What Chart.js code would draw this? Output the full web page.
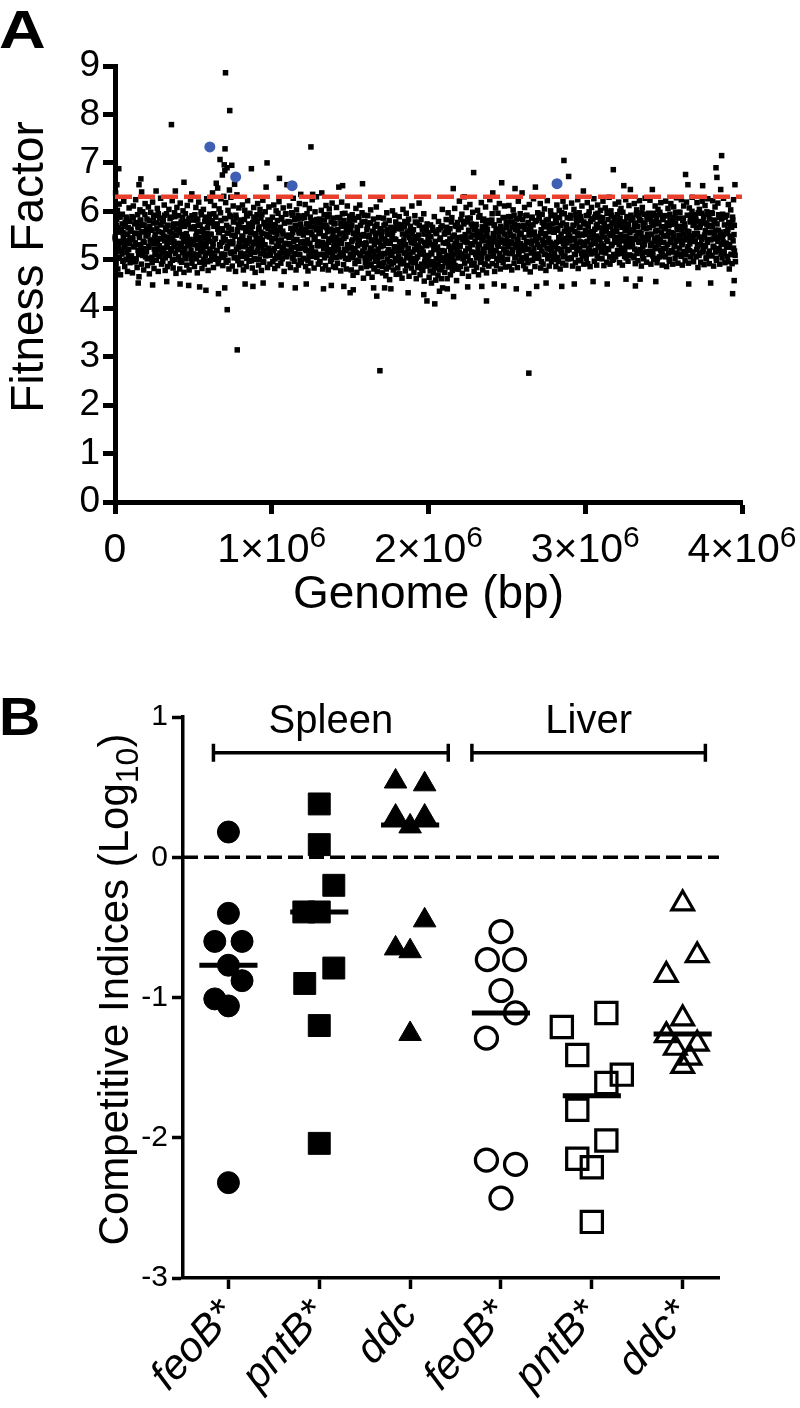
<!DOCTYPE html>
<html>
<head>
<meta charset="utf-8">
<script src="https://cdn.jsdelivr.net/npm/chart.js@4.4.1/dist/chart.umd.min.js"></script>
<style>
html,body{margin:0;padding:0;background:#fff;}
body{width:800px;height:1408px;position:relative;overflow:hidden;}
canvas{position:absolute;left:0;}
#chartA{top:0;}
#chartB{top:680px;}
</style>
</head>
<body>
<canvas id="chartA" width="800" height="660"></canvas>
<canvas id="chartB" width="800" height="728"></canvas>
<script>
// ---------------- Panel A data: [genome position (kb), fitness factor] ----------------
const genesSeg1 = [[2,5.43],[4,6.38],[7,4.92],[10,5.71],[13,5.18],[15,6.02],[18,4.81],[21,5.57],[24,5.29],[26,6.15],[29,5.04],[32,5.88],[35,4.69],[38,5.36],[41,5.63],[44,5.12],[47,5.94],[50,4.97],[53,5.48],[56,6.21],[59,5.25],[62,4.86],[65,5.77],[68,5.39],[71,5.01],[74,5.84],[77,5.53],[80,4.76],[84,5.66],[87,5.21],[90,6.07],[93,5.33],[96,4.94],[98,5.59],
[102,5.61],[105,5.08],[108,5.89],[111,4.73],[114,5.42],[117,6.11],[120,5.27],[123,4.96],[126,5.74],[129,5.35],[132,6.24],[135,5.02],[138,5.55],[141,4.84],[144,5.93],[147,5.19],[150,5.67],[153,4.65],[156,5.46],[159,6.03],[162,5.31],[165,5.81],[168,4.91],[171,5.58],[174,5.14],[177,5.99],[180,5.38],[183,4.79],[186,5.72],[189,5.23],[192,6.16],[195,5.06],[198,5.49],
[201,5.17],[204,5.84],[207,4.88],[210,5.52],[213,6.09],[216,5.26],[219,4.71],[222,5.69],[225,5.41],[228,5.98],[231,5.03],[234,5.61],[237,4.94],[240,6.19],[243,5.33],[246,5.76],[249,4.82],[252,5.45],[255,5.11],[258,5.92],[261,5.37],[264,4.99],[267,5.64],[270,6.06],[273,5.21],[276,4.76],[279,5.58],[282,5.29],[285,5.86],[288,5.07],[291,6.27],[294,5.43],[297,4.91],
[302,5.56],[305,4.97],[308,5.81],[311,5.24],[314,6.13],[317,5.39],[320,4.78],[323,5.66],[326,5.13],[329,5.95],[332,5.31],[335,4.86],[338,5.71],[341,5.47],[344,6.04],[347,5.09],[350,5.59],[353,4.92],[356,5.36],[359,5.88],[362,5.18],[365,6.22],[368,5.44],[371,4.83],[374,5.74],[377,5.28],[380,5.97],[383,5.01],[386,5.51],[389,4.72],[392,5.63],[395,6.08],[398,5.22],
[401,5.34],[404,5.91],[407,5.06],[410,5.62],[413,4.81],[416,6.17],[419,5.27],[422,5.78],[425,4.95],[428,5.48],[431,5.16],[434,6.01],[437,5.38],[440,4.74],[443,5.69],[446,5.23],[449,5.95],[452,5.02],[455,5.54],[458,4.89],[461,6.12],[464,5.31],[467,5.73],[470,5.11],[473,4.79],[476,5.86],[479,5.42],[482,6.24],[485,5.19],[488,5.64],[491,4.93],[494,5.36],[497,5.82]];
const genesSeg2 = [[501,5.12],[504,5.67],[507,4.86],[510,5.93],[513,5.41],[516,6.08],[519,5.02],[522,5.58],[525,4.73],[528,5.84],[531,5.29],[534,6.19],[537,5.46],[540,4.95],[543,5.72],[546,5.17],[549,5.99],[552,5.33],[555,4.82],[558,5.61],[561,5.24],[564,6.04],[567,5.51],[570,4.91],[573,5.79],[576,5.08],[579,5.88],[582,5.37],[585,6.26],[588,5.14],[591,5.66],[594,4.78],[597,5.44],
[601,5.38],[604,5.94],[607,4.98],[610,6.21],[613,5.52],[616,5.06],[619,5.81],[622,6.38],[625,5.27],[628,4.84],[631,5.69],[634,6.12],[637,5.43],[640,5.01],[643,5.88],[646,6.58],[649,5.19],[652,5.74],[655,6.48],[658,4.92],[661,5.56],[664,6.05],[667,5.31],[670,7.07],[673,5.97],[676,6.26],[679,5.12],[682,5.64],[685,6.75],[688,4.88],[691,5.47],[694,6.31],[697,6.96],[699,5.85],
[701,6.84],[703,5.42],[706,6.18],[709,4.95],[712,5.71],[715,6.9],[718,5.28],[721,6.02],[724,5.55],[727,4.81],[730,6.44],[733,5.92],[736,5.16],[739,6.29],[742,5.63],[745,6.95],[748,4.87],[751,5.38],[754,6.11],[757,5.79],[760,5.04],[763,6.56],[766,5.49],[769,4.76],[772,5.86],[775,5.22],[778,6.34],[781,5.58],[784,4.98],[787,5.74],[790,6.07],[793,5.33],[796,4.9],[799,5.67],
[801,5.14],[804,5.82],[807,4.93],[810,5.49],[813,6.13],[816,5.27],[819,4.79],[822,5.66],[825,5.39],[828,6.02],[831,5.07],[834,5.58],[837,4.86],[840,5.91],[843,5.33],[846,6.22],[849,5.18],[852,5.73],[855,4.97],[858,5.45],[861,5.96],[864,5.11],[867,5.62],[870,6.88],[873,5.24],[876,4.83],[879,5.77],[882,5.36],[885,6.08],[888,5.02],[891,5.54],[894,4.74],[897,5.87],
[901,5.43],[904,5.01],[907,5.79],[910,6.16],[913,5.26],[916,4.89],[919,5.68],[922,5.35],[925,6.04],[928,5.12],[931,5.57],[934,4.78],[937,5.93],[940,5.41],[943,6.23],[946,5.19],[949,4.95],[952,5.74],[955,5.31],[958,5.99],[961,5.08],[964,6.5],[967,5.52],[970,7.0],[973,4.84],[976,5.64],[979,5.22],[982,6.09],[985,5.47],[988,4.91],[991,5.81],[994,5.16],[997,5.58]];
const genesSeg3 = [[1001,5.37],[1004,5.88],[1007,4.96],[1010,5.61],[1013,6.13],[1016,5.23],[1019,4.82],[1022,5.72],[1025,5.44],[1028,6.01],[1031,5.09],[1034,5.53],[1037,4.88],[1040,5.96],[1043,5.29],[1046,6.2],[1049,6.68],[1052,5.14],[1055,5.67],[1058,4.93],[1061,5.41],[1064,5.84],[1067,5.02],[1070,5.59],[1073,6.07],[1076,5.26],[1079,4.76],[1082,5.76],[1085,5.33],[1088,5.94],[1091,5.06],[1094,5.49],[1097,6.55],
[1101,5.18],[1104,5.79],[1107,4.91],[1110,5.46],[1113,6.11],[1116,5.31],[1119,4.84],[1122,5.65],[1125,5.22],[1128,5.97],[1131,5.04],[1134,5.56],[1137,6.27],[1140,5.38],[1143,4.97],[1146,5.83],[1149,5.13],[1152,5.69],[1155,4.79],[1158,6.03],[1161,5.42],[1164,5.27],[1167,5.91],[1170,4.89],[1173,5.58],[1176,6.16],[1179,5.11],[1182,5.74],[1185,5.35],[1188,4.94],[1191,5.86],[1194,5.24],[1197,5.61],
[1201,5.51],[1204,5.02],[1207,5.87],[1210,5.28],[1213,6.14],[1216,4.86],[1219,5.63],[1222,5.19],[1225,5.95],[1228,5.41],[1231,4.77],[1234,5.74],[1237,5.08],[1240,6.06],[1243,5.34],[1246,5.57],[1249,4.93],[1252,5.81],[1255,5.25],[1258,6.24],[1261,6.35],[1264,5.13],[1267,5.68],[1270,4.83],[1273,5.44],[1276,5.99],[1279,5.16],[1282,5.62],[1285,6.3],[1288,5.05],[1291,5.77],[1294,5.37],[1297,4.91],
[1301,5.29],[1304,5.84],[1307,4.95],[1310,5.58],[1313,5.11],[1316,6.02],[1319,6.38],[1322,5.36],[1325,4.81],[1328,5.71],[1331,5.23],[1334,5.93],[1337,5.04],[1340,5.49],[1343,4.88],[1346,6.12],[1349,5.32],[1352,5.66],[1355,5.15],[1358,5.89],[1361,4.79],[1364,5.43],[1367,6.05],[1370,5.21],[1373,5.61],[1376,4.97],[1379,5.78],[1382,5.39],[1385,6.17],[1388,5.09],[1391,5.52],[1394,4.86],[1397,5.74],
[1401,5.18],[1404,5.75],[1407,4.84],[1410,5.46],[1413,6.08],[1416,5.27],[1419,4.93],[1422,5.62],[1425,5.34],[1428,6.5],[1431,5.06],[1434,5.87],[1437,5.41],[1440,4.77],[1443,5.69],[1446,6.19],[1449,5.13],[1452,6.53],[1455,5.55],[1458,4.9],[1461,5.81],[1464,5.22],[1467,5.96],[1470,5.03],[1473,5.48],[1476,4.81],[1479,5.72],[1482,6.11],[1485,5.31],[1488,5.01],[1491,5.64],[1494,5.24],[1497,5.9]];
const genesSeg4 = [[1501,5.12],[1504,5.66],[1507,4.79],[1510,5.38],[1513,5.93],[1516,5.04],[1519,4.68],[1522,5.54],[1525,5.21],[1528,5.82],[1531,4.92],[1534,5.45],[1537,6.06],[1540,5.15],[1543,4.74],[1546,5.61],[1549,5.29],[1552,5.88],[1555,4.97],[1558,5.41],[1561,6.13],[1564,5.08],[1567,5.71],[1570,4.83],[1573,5.33],[1576,5.97],[1579,6.57],[1582,5.18],[1585,4.62],[1588,5.52],[1591,5.26],[1594,5.79],[1597,4.95],
[1601,5.35],[1604,4.86],[1607,5.63],[1610,5.11],[1613,5.91],[1616,4.72],[1619,5.47],[1622,5.02],[1625,5.76],[1628,5.24],[1631,6.03],[1634,4.91],[1637,5.39],[1640,4.64],[1643,5.58],[1646,5.16],[1649,5.84],[1652,4.81],[1655,5.31],[1658,5.69],[1661,4.97],[1664,5.44],[1667,6.09],[1670,5.07],[1673,4.76],[1676,5.55],[1679,5.22],[1682,5.87],[1685,4.88],[1688,5.37],[1691,6.24],[1694,5.13],[1697,5.61],
[1701,5.06],[1704,5.58],[1707,4.73],[1710,5.29],[1713,5.86],[1716,4.94],[1719,5.43],[1722,5.13],[1725,5.74],[1728,4.67],[1731,5.34],[1734,5.97],[1737,5.01],[1740,5.52],[1743,4.85],[1746,5.21],[1749,5.81],[1752,4.59],[1755,5.38],[1758,5.09],[1761,5.66],[1764,4.91],[1767,5.47],[1770,6.01],[1773,5.17],[1776,4.79],[1779,5.61],[1782,5.27],[1785,5.92],[1788,4.98],[1791,5.42],[1794,4.7],[1797,5.71],
[1801,5.25],[1804,4.83],[1807,5.64],[1810,5.08],[1813,5.89],[1816,4.71],[1819,5.36],[1822,5.01],[1825,5.72],[1828,5.19],[1831,4.62],[1834,5.53],[1837,6.04],[1840,4.92],[1843,5.41],[1846,5.14],[1849,5.79],[1852,4.77],[1855,5.31],[1858,5.96],[1861,5.04],[1864,5.57],[1867,4.88],[1870,5.22],[1873,5.84],[1876,4.66],[1879,5.46],[1882,5.11],[1885,5.69],[1888,4.97],[1891,5.35],[1894,6.11],[1897,5.02],
[1901,5.16],[1904,5.62],[1907,4.74],[1910,5.33],[1913,5.91],[1916,4.95],[1919,5.44],[1922,4.61],[1925,5.27],[1928,5.76],[1931,5.06],[1934,4.84],[1937,5.51],[1940,6.17],[1943,5.18],[1946,4.69],[1949,5.39],[1952,5.83],[1955,4.91],[1958,5.24],[1961,5.67],[1964,4.78],[1967,5.12],[1970,5.95],[1973,4.56],[1976,5.36],[1979,5.03],[1982,5.58],[1985,4.87],[1988,5.29],[1991,5.74],[1994,4.98],[1997,5.45]];
const genesSeg5 = [[2001,5.08],[2004,4.64],[2007,5.47],[2010,4.89],[2013,5.72],[2016,5.14],[2019,4.52],[2022,5.31],[2025,4.96],[2028,5.61],[2031,4.73],[2034,5.22],[2037,5.89],[2040,4.83],[2043,5.38],[2046,4.58],[2049,5.02],[2052,5.54],[2055,4.91],[2058,5.26],[2061,4.68],[2064,5.79],[2067,5.11],[2070,4.79],[2073,5.42],[2076,4.99],[2079,5.66],[2082,4.61],[2085,5.19],[2088,6.04],[2091,4.86],[2094,5.35],[2097,5.04],
[2101,5.18],[2104,4.74],[2107,5.56],[2110,4.94],[2113,5.83],[2116,5.06],[2119,4.61],[2122,5.37],[2125,5.97],[2128,4.85],[2131,5.28],[2134,5.01],[2137,5.64],[2140,4.69],[2143,5.42],[2146,5.12],[2149,5.87],[2152,4.78],[2155,5.24],[2158,6.47],[2161,4.97],[2164,5.51],[2167,6.06],[2170,4.88],[2173,5.33],[2176,5.69],[2179,4.57],[2182,5.21],[2185,5.77],[2188,5.04],[2191,4.81],[2194,5.46],[2197,6.21],
[2201,5.29],[2204,4.86],[2207,5.67],[2210,5.12],[2213,5.94],[2216,4.72],[2219,5.41],[2222,5.03],[2225,5.79],[2228,6.3],[2231,4.93],[2234,5.52],[2237,5.18],[2240,6.08],[2243,4.81],[2246,5.36],[2249,5.86],[2252,5.07],[2255,4.66],[2258,5.58],[2261,5.23],[2264,6.14],[2267,4.98],[2270,5.47],[2273,5.74],[2276,4.89],[2279,5.31],[2282,5.98],[2285,5.15],[2288,6.8],[2291,4.76],[2294,5.62],[2297,5.38],
[2301,5.11],[2304,5.73],[2307,4.84],[2310,5.46],[2313,6.02],[2316,5.21],[2319,4.69],[2322,5.58],[2325,5.32],[2328,5.91],[2331,4.95],[2334,5.49],[2337,6.18],[2340,5.06],[2343,5.68],[2346,4.79],[2349,5.39],[2352,5.84],[2355,5.14],[2358,4.91],[2361,5.61],[2364,6.09],[2367,5.27],[2370,4.73],[2373,5.53],[2376,5.02],[2379,5.81],[2382,5.36],[2385,4.87],[2388,5.76],[2391,6.24],[2394,5.17],[2397,5.44],
[2401,5.26],[2404,5.82],[2407,4.92],[2410,6.38],[2413,5.54],[2416,5.08],[2419,5.71],[2422,4.76],[2425,5.37],[2428,6.07],[2431,5.19],[2434,4.88],[2437,5.63],[2440,5.31],[2443,5.96],[2446,4.99],[2449,5.47],[2452,6.16],[2455,5.13],[2458,4.81],[2461,5.69],[2464,5.41],[2467,6.59],[2470,5.04],[2473,5.58],[2476,4.94],[2479,5.87],[2482,5.22],[2485,6.11],[2488,5.34],[2491,4.85],[2494,5.66],[2497,5.16]];
const genesSeg6 = [[2501,5.44],[2504,5.01],[2507,5.78],[2510,5.27],[2513,6.12],[2516,4.86],[2519,5.56],[2522,5.13],[2525,5.89],[2528,5.37],[2531,4.79],[2534,5.67],[2537,5.21],[2540,6.03],[2543,5.48],[2546,4.93],[2549,5.73],[2552,6.47],[2555,5.31],[2558,5.06],[2561,5.84],[2564,5.42],[2567,4.84],[2570,5.61],[2573,6.21],[2576,5.16],[2579,5.52],[2582,4.97],[2585,5.95],[2588,5.33],[2591,5.69],[2594,5.04],[2597,6.38],
[2601,5.19],[2604,5.71],[2607,4.88],[2610,5.46],[2613,6.08],[2616,5.29],[2619,4.81],[2622,5.63],[2625,5.08],[2628,5.92],[2631,5.36],[2634,4.94],[2637,5.77],[2640,5.22],[2643,6.14],[2646,5.51],[2649,4.75],[2652,5.59],[2655,5.14],[2658,5.86],[2661,5.39],[2664,4.99],[2667,5.72],[2670,6.26],[2673,5.24],[2676,5.57],[2679,4.86],[2682,6.5],[2685,5.43],[2688,5.03],[2691,5.81],[2694,5.32],[2697,5.97],
[2701,5.48],[2704,5.06],[2707,5.87],[2710,5.26],[2713,6.16],[2716,4.83],[2719,5.62],[2722,5.18],[2725,5.94],[2728,5.41],[2731,4.91],[2734,5.76],[2737,5.31],[2740,6.05],[2743,5.12],[2746,5.54],[2749,4.78],[2752,5.69],[2755,5.36],[2758,6.22],[2761,5.02],[2764,5.83],[2767,5.44],[2770,4.87],[2773,5.66],[2776,5.21],[2779,6.01],[2782,5.33],[2785,4.96],[2788,5.74],[2791,5.27],[2794,5.91],[2797,5.09],
[2801,5.57],[2804,5.14],[2807,5.92],[2810,5.31],[2813,4.86],[2816,5.76],[2819,6.13],[2822,5.23],[2825,5.64],[2828,4.97],[2831,5.46],[2834,6.02],[2837,5.38],[2840,4.81],[2843,5.71],[2846,5.18],[2849,5.97],[2852,5.42],[2855,4.93],[2858,6.21],[2861,5.06],[2864,7.05],[2867,5.59],[2870,5.27],[2873,6.09],[2876,4.89],[2879,5.68],[2882,5.35],[2885,5.87],[2888,5.02],[2891,5.52],[2894,6.72],[2897,5.21],
[2901,5.39],[2904,5.86],[2907,5.03],[2910,5.62],[2913,6.17],[2916,5.28],[2919,4.87],[2922,5.71],[2925,5.44],[2928,6.04],[2931,5.11],[2934,5.58],[2937,4.94],[2940,5.93],[2943,5.33],[2946,5.76],[2949,5.19],[2952,6.24],[2955,4.82],[2958,5.49],[2961,5.97],[2964,5.24],[2967,5.67],[2970,4.98],[2973,5.81],[2976,5.36],[2979,6.11],[2982,5.08],[2985,5.53],[2988,6.42],[2991,4.91],[2994,5.74],[2997,5.29]];
const genesSeg7 = [[3001,5.52],[3004,5.09],[3007,5.91],[3010,5.37],[3013,6.18],[3016,4.92],[3019,5.68],[3022,5.24],[3025,5.99],[3028,5.46],[3031,4.86],[3034,5.79],[3037,5.31],[3040,6.08],[3043,5.58],[3046,5.14],[3049,5.84],[3052,5.41],[3055,6.26],[3058,4.97],[3061,5.63],[3064,5.19],[3067,5.94],[3070,5.49],[3073,4.89],[3076,5.73],[3079,6.13],[3082,5.27],[3085,5.66],[3088,5.03],[3091,5.88],[3094,5.44],[3097,6.02],
[3101,5.33],[3104,5.81],[3107,5.02],[3110,5.64],[3113,6.21],[3116,5.26],[3119,4.88],[3122,5.72],[3125,5.47],[3128,6.07],[3131,5.15],[3134,5.59],[3137,4.95],[3140,5.96],[3143,5.38],[3146,5.83],[3149,5.21],[3152,6.29],[3155,5.54],[3158,4.91],[3161,5.69],[3164,6.01],[3167,5.29],[3170,5.76],[3173,4.99],[3176,5.51],[3179,6.86],[3182,5.11],[3185,5.87],[3188,5.42],[3191,6.15],[3194,5.06],[3197,5.63],
[3201,5.46],[3204,5.93],[3207,5.12],[3210,5.71],[3213,6.19],[3216,5.31],[3219,4.94],[3222,5.86],[3225,5.52],[3228,6.06],[3231,5.23],[3234,5.67],[3237,4.89],[3240,5.98],[3243,5.39],[3246,6.53],[3249,5.78],[3252,5.17],[3255,5.61],[3258,6.24],[3261,5.04],[3264,5.49],[3267,5.89],[3270,5.27],[3273,4.97],[3276,5.74],[3279,6.12],[3282,5.35],[3285,5.56],[3288,6.45],[3291,5.09],[3294,5.82],[3297,5.43],
[3301,5.34],[3304,5.87],[3307,5.07],[3310,5.62],[3313,6.16],[3316,5.22],[3319,4.92],[3322,5.76],[3325,5.48],[3328,6.03],[3331,5.13],[3334,5.69],[3337,4.98],[3340,5.91],[3343,5.36],[3346,6.22],[3349,5.57],[3352,5.19],[3355,5.81],[3358,4.87],[3361,5.44],[3364,6.08],[3367,5.28],[3370,5.73],[3373,5.02],[3376,5.94],[3379,5.39],[3382,6.27],[3385,5.16],[3388,5.64],[3391,4.95],[3394,5.84],[3397,5.52],
[3401,5.41],[3404,5.96],[3407,5.11],[3410,5.66],[3413,6.23],[3416,5.29],[3419,4.91],[3422,5.79],[3425,5.53],[3428,6.45],[3431,5.17],[3434,5.72],[3437,5.01],[3440,5.92],[3443,5.37],[3446,6.11],[3449,5.59],[3452,5.23],[3455,5.86],[3458,4.94],[3461,5.47],[3464,6.04],[3467,5.31],[3470,5.77],[3473,5.06],[3476,5.98],[3479,5.42],[3482,6.18],[3485,5.13],[3488,5.68],[3491,4.89],[3494,5.83],[3497,5.49]];
const genesSeg8 = [[3501,5.36],[3504,5.91],[3507,5.08],[3510,5.64],[3513,6.21],[3516,5.24],[3519,4.86],[3522,5.76],[3525,5.49],[3528,6.06],[3531,5.14],[3534,5.71],[3537,4.97],[3540,5.94],[3543,5.41],[3546,6.16],[3549,5.56],[3552,5.19],[3555,5.83],[3558,4.91],[3561,5.46],[3564,6.09],[3567,5.27],[3570,5.74],[3573,5.03],[3576,5.97],[3579,5.38],[3582,6.28],[3585,5.11],[3588,5.67],[3591,4.93],[3594,5.86],[3597,5.51],
[3601,5.43],[3604,5.98],[3607,5.12],[3610,5.69],[3613,6.24],[3616,5.31],[3619,4.89],[3622,5.81],[3625,5.52],[3628,6.11],[3631,5.17],[3634,5.74],[3637,4.98],[3640,6.76],[3643,5.44],[3646,6.19],[3649,5.59],[3652,5.22],[3655,6.55],[3658,4.93],[3661,5.49],[3664,6.07],[3667,5.33],[3670,5.78],[3673,5.06],[3676,5.92],[3679,5.39],[3682,6.29],[3685,5.16],[3688,5.71],[3691,4.96],[3694,5.88],[3697,5.54],
[3701,5.38],[3704,5.93],[3707,5.06],[3710,5.66],[3713,6.18],[3716,5.27],[3719,4.84],[3722,5.79],[3725,5.47],[3728,6.04],[3731,5.14],[3734,5.72],[3737,4.95],[3740,5.96],[3743,5.42],[3746,6.21],[3749,6.53],[3752,5.21],[3755,5.86],[3758,4.9],[3761,5.51],[3764,6.12],[3767,5.29],[3770,5.76],[3773,5.02],[3776,5.99],[3779,5.36],[3782,6.26],[3785,5.12],[3788,5.69],[3791,4.92],[3794,5.84],[3797,5.56],
[3801,5.41],[3804,5.97],[3807,5.09],[3810,5.68],[3813,6.22],[3816,5.28],[3819,4.87],[3822,5.82],[3825,5.53],[3828,6.09],[3831,5.16],[3834,6.9],[3837,4.99],[3840,6.7],[3843,5.46],[3846,6.17],[3849,5.61],[3852,5.23],[3855,5.87],[3858,4.91],[3861,5.48],[3864,6.45],[3867,5.32],[3870,7.15],[3873,5.04],[3876,5.94],[3879,5.37],[3882,6.27],[3885,5.13],[3888,5.72],[3891,4.94],[3894,5.89],[3897,5.58],
[3901,5.34],[3904,5.92],[3907,5.07],[3910,5.62],[3913,6.14],[3916,5.26],[3919,4.81],[3922,5.74],[3925,5.46],[3928,6.03],[3931,5.11],[3934,5.67],[3937,4.92],[3940,5.88],[3943,5.39],[3946,6.24],[3949,5.52],[3952,5.18],[3955,6.55],[3958,4.96]];
// dense core of the band (second pass of genes between the ones above)
const genesCore1 = [[1,5.47],[6,5.12],[11,5.83],[16,5.29],[21,5.66],[26,5.03],[31,5.91],[36,5.38],[41,5.21],[46,5.74],[51,5.56],[56,4.98],[61,5.69],[66,5.33],[71,5.88],[76,5.15],[81,5.52],[86,5.07],[91,5.79],[96,5.42],
[101,5.63],[106,5.01],[111,5.45],[116,5.86],[121,5.27],[126,5.54],[131,4.96],[136,5.77],[141,5.31],[146,5.68],[151,5.11],[156,5.49],[161,5.82],[166,5.24],[171,5.71],[176,5.09],[181,5.58],[186,5.36],[191,5.93],[196,5.18],
[201,5.63],[206,5.02],[211,5.57],[216,5.28],[221,5.81],[226,5.36],[231,5.61],[236,5.05],[241,5.39],[246,5.87],[251,5.22],[256,5.53],[261,5.14],[266,5.76],[271,5.34],[276,5.95],[281,5.08],[286,5.44],[291,5.72],[296,5.19],
[301,5.78],[306,5.16],[311,5.49],[316,5.92],[321,5.04],[326,5.62],[331,5.26],[336,5.71],[341,5.41],[346,5.11],[351,5.85],[356,5.23],[361,5.55],[366,4.99],[371,5.67],[376,5.37],[381,5.89],[386,5.13],[391,5.51],[396,5.33],
[401,5.21],[406,5.74],[411,5.56],[416,4.98],[421,5.69],[426,5.33],[431,5.88],[436,5.15],[441,5.52],[446,5.07],[451,5.79],[456,5.42],[461,5.47],[466,5.12],[471,5.83],[476,5.29],[481,5.66],[486,5.03],[491,5.91],[496,5.38],
[501,5.31],[506,5.68],[511,5.11],[516,5.49],[521,5.82],[526,5.24],[531,5.71],[536,5.09],[541,5.58],[546,5.36],[551,5.93],[556,5.18],[561,5.63],[566,5.01],[571,5.45],[576,5.86],[581,5.27],[586,5.54],[591,4.96],[596,5.77],
[601,5.87],[606,5.22],[611,5.53],[616,5.14],[621,5.76],[626,5.34],[631,5.95],[636,5.08],[641,5.44],[646,5.72],[651,5.19],[656,5.63],[661,5.02],[666,5.57],[671,5.28],[676,5.81],[681,5.36],[686,5.61],[691,5.05],[696,5.39],
[701,5.11],[706,5.85],[711,5.23],[716,5.55],[721,4.99],[726,5.67],[731,5.37],[736,5.89],[741,5.13],[746,5.51],[751,5.33],[756,5.78],[761,5.16],[766,5.49],[771,5.92],[776,5.04],[781,5.62],[786,5.26],[791,5.71],[796,5.41],
[801,5.07],[806,5.79],[811,5.42],[816,5.47],[821,5.12],[826,5.83],[831,5.29],[836,5.66],[841,5.03],[846,5.91],[851,5.38],[856,5.21],[861,5.74],[866,5.56],[871,4.98],[876,5.69],[881,5.33],[886,5.88],[891,5.15],[896,5.52],
[901,5.36],[906,5.93],[911,5.18],[916,5.63],[921,5.01],[926,5.45],[931,5.86],[936,5.27],[941,5.54],[946,4.96],[951,5.77],[956,5.31],[961,5.68],[966,5.11],[971,5.49],[976,5.82],[981,5.24],[986,5.71],[991,5.09],[996,5.58]];
const genesCore2 = [[1001,5.44],[1006,5.72],[1011,5.19],[1016,5.63],[1021,5.02],[1026,5.57],[1031,5.28],[1036,5.81],[1041,5.36],[1046,5.61],[1051,5.05],[1056,5.39],[1061,5.87],[1066,5.22],[1071,5.53],[1076,5.14],[1081,5.76],[1086,5.34],[1091,5.95],[1096,5.08],
[1101,5.13],[1106,5.51],[1111,5.33],[1116,5.78],[1121,5.16],[1126,5.49],[1131,5.92],[1136,5.04],[1141,5.62],[1146,5.26],[1151,5.71],[1156,5.41],[1161,5.11],[1166,5.85],[1171,5.23],[1176,5.55],[1181,4.99],[1186,5.67],[1191,5.37],[1196,5.89],
[1201,5.03],[1206,5.91],[1211,5.38],[1216,5.21],[1221,5.74],[1226,5.56],[1231,4.98],[1236,5.69],[1241,5.33],[1246,5.88],[1251,5.15],[1256,5.52],[1261,5.07],[1266,5.79],[1271,5.42],[1276,5.47],[1281,5.12],[1286,5.83],[1291,5.29],[1296,5.66],
[1301,5.54],[1306,4.96],[1311,5.77],[1316,5.31],[1321,5.68],[1326,5.11],[1331,5.49],[1336,5.82],[1341,5.24],[1346,5.71],[1351,5.09],[1356,5.58],[1361,5.36],[1366,5.93],[1371,5.18],[1376,5.63],[1381,5.01],[1386,5.45],[1391,5.86],[1396,5.27],
[1401,5.36],[1406,5.61],[1411,5.05],[1416,5.39],[1421,5.87],[1426,5.22],[1431,5.53],[1436,5.14],[1441,5.76],[1446,5.34],[1451,5.95],[1456,5.08],[1461,5.44],[1466,5.72],[1471,5.19],[1476,5.63],[1481,5.02],[1486,5.57],[1491,5.28],[1496,5.81],
[1501,5.62],[1506,5.26],[1511,5.71],[1516,5.41],[1521,5.11],[1526,5.85],[1531,5.23],[1536,5.55],[1541,4.99],[1546,5.67],[1551,5.37],[1556,5.89],[1561,5.13],[1566,5.51],[1571,5.33],[1576,5.78],[1581,5.16],[1586,5.49],[1591,5.92],[1596,5.04],
[1601,5.32],[1606,4.97],[1611,5.68],[1616,5.14],[1621,5.51],[1626,4.88],[1631,5.76],[1636,5.23],[1641,5.06],[1646,5.59],[1651,5.41],[1656,4.83],[1661,5.54],[1666,5.18],[1671,5.73],[1676,5.0],[1681,5.37],[1686,4.92],[1691,5.64],[1696,5.27],
[1701,5.48],[1706,4.86],[1711,5.3],[1716,5.71],[1721,5.12],[1726,5.39],[1731,4.81],[1736,5.62],[1741,5.16],[1746,5.53],[1751,4.96],[1756,5.34],[1761,5.67],[1766,5.09],[1771,5.56],[1776,4.94],[1781,5.43],[1786,5.21],[1791,5.78],[1796,5.03],
[1801,5.18],[1806,5.73],[1811,5.0],[1816,5.37],[1821,4.92],[1826,5.64],[1831,5.27],[1836,5.32],[1841,4.97],[1846,5.68],[1851,5.14],[1856,5.51],[1861,4.88],[1866,5.76],[1871,5.23],[1876,5.06],[1881,5.59],[1886,5.41],[1891,4.83],[1896,5.54],
[1901,4.94],[1906,5.43],[1911,5.21],[1916,5.78],[1921,5.03],[1926,5.48],[1931,4.86],[1936,5.3],[1941,5.71],[1946,5.12],[1951,5.39],[1956,4.81],[1961,5.62],[1966,5.16],[1971,5.53],[1976,4.96],[1981,5.34],[1986,5.67],[1991,5.09],[1996,5.56]];
const genesCore3 = [[2001,5.53],[2006,5.35],[2011,4.77],[2016,5.48],[2021,5.12],[2026,5.67],[2031,4.94],[2036,5.31],[2041,4.86],[2046,5.58],[2051,5.21],[2056,5.26],[2061,4.91],[2066,5.62],[2071,5.08],[2076,5.45],[2081,4.82],[2086,5.7],[2091,5.17],[2096,5.0],
[2101,5.53],[2106,4.96],[2111,5.34],[2116,5.67],[2121,5.09],[2126,5.56],[2131,4.94],[2136,5.43],[2141,5.21],[2146,5.78],[2151,5.03],[2156,5.48],[2161,4.86],[2166,5.3],[2171,5.71],[2176,5.12],[2181,5.39],[2186,4.81],[2191,5.62],[2196,5.16],
[2201,5.28],[2206,5.83],[2211,5.1],[2216,5.47],[2221,5.02],[2226,5.74],[2231,5.37],[2236,5.42],[2241,5.07],[2246,5.78],[2251,5.24],[2256,5.61],[2261,4.98],[2266,5.86],[2271,5.33],[2276,5.16],[2281,5.69],[2286,5.51],[2291,4.93],[2296,5.64],
[2301,5.66],[2306,5.04],[2311,5.53],[2316,5.31],[2321,5.88],[2326,5.13],[2331,5.58],[2336,4.96],[2341,5.4],[2346,5.81],[2351,5.22],[2356,5.49],[2361,4.91],[2366,5.72],[2371,5.26],[2376,5.63],[2381,5.06],[2386,5.44],[2391,5.77],[2396,5.19],
[2401,5.34],[2406,5.95],[2411,5.08],[2416,5.44],[2421,5.72],[2426,5.19],[2431,5.63],[2436,5.02],[2441,5.57],[2446,5.28],[2451,5.81],[2456,5.36],[2461,5.61],[2466,5.05],[2471,5.39],[2476,5.87],[2481,5.22],[2486,5.53],[2491,5.14],[2496,5.76],
[2501,5.67],[2506,5.37],[2511,5.89],[2516,5.13],[2521,5.51],[2526,5.33],[2531,5.78],[2536,5.16],[2541,5.49],[2546,5.92],[2551,5.04],[2556,5.62],[2561,5.26],[2566,5.71],[2571,5.41],[2576,5.11],[2581,5.85],[2586,5.23],[2591,5.55],[2596,4.99],
[2601,5.83],[2606,5.29],[2611,5.66],[2616,5.03],[2621,5.91],[2626,5.38],[2631,5.21],[2636,5.74],[2641,5.56],[2646,4.98],[2651,5.69],[2656,5.33],[2661,5.88],[2666,5.15],[2671,5.52],[2676,5.07],[2681,5.79],[2686,5.42],[2691,5.47],[2696,5.12],
[2701,5.45],[2706,5.86],[2711,5.27],[2716,5.54],[2721,4.96],[2726,5.77],[2731,5.31],[2736,5.68],[2741,5.11],[2746,5.49],[2751,5.82],[2756,5.24],[2761,5.71],[2766,5.09],[2771,5.58],[2776,5.36],[2781,5.93],[2786,5.18],[2791,5.63],[2796,5.01],
[2801,5.57],[2806,5.28],[2811,5.81],[2816,5.36],[2821,5.61],[2826,5.05],[2831,5.39],[2836,5.87],[2841,5.22],[2846,5.53],[2851,5.14],[2856,5.76],[2861,5.34],[2866,5.95],[2871,5.08],[2876,5.44],[2881,5.72],[2886,5.19],[2891,5.63],[2896,5.02],
[2901,5.49],[2906,5.92],[2911,5.04],[2916,5.62],[2921,5.26],[2926,5.71],[2931,5.41],[2936,5.11],[2941,5.85],[2946,5.23],[2951,5.55],[2956,4.99],[2961,5.67],[2966,5.37],[2971,5.89],[2976,5.13],[2981,5.51],[2986,5.33],[2991,5.78],[2996,5.16]];
const genesCore4 = [[3001,5.61],[3006,5.03],[3011,5.74],[3016,5.38],[3021,5.93],[3026,5.2],[3031,5.57],[3036,5.12],[3041,5.84],[3046,5.47],[3051,5.52],[3056,5.17],[3061,5.88],[3066,5.34],[3071,5.71],[3076,5.08],[3081,5.96],[3086,5.43],[3091,5.26],[3096,5.79],
[3101,5.16],[3106,5.54],[3111,5.87],[3116,5.29],[3121,5.76],[3126,5.14],[3131,5.63],[3136,5.41],[3141,5.98],[3146,5.23],[3151,5.68],[3156,5.06],[3161,5.5],[3166,5.91],[3171,5.32],[3176,5.59],[3181,5.01],[3186,5.82],[3191,5.36],[3196,5.73],
[3201,5.58],[3206,5.19],[3211,5.81],[3216,5.39],[3221,6.0],[3226,5.13],[3231,5.49],[3236,5.77],[3241,5.24],[3246,5.68],[3251,5.07],[3256,5.62],[3261,5.33],[3266,5.86],[3271,5.41],[3276,5.66],[3281,5.1],[3286,5.44],[3291,5.92],[3296,5.27],
[3301,5.28],[3306,5.6],[3311,5.04],[3316,5.72],[3321,5.42],[3326,5.94],[3331,5.18],[3336,5.56],[3341,5.38],[3346,5.83],[3351,5.21],[3356,5.54],[3361,5.97],[3366,5.09],[3371,5.67],[3376,5.31],[3381,5.76],[3386,5.46],[3391,5.16],[3396,5.9],
[3401,5.47],[3406,5.52],[3411,5.17],[3416,5.88],[3421,5.34],[3426,5.71],[3431,5.08],[3436,5.96],[3441,5.43],[3446,5.26],[3451,5.79],[3456,5.61],[3461,5.03],[3466,5.74],[3471,5.38],[3476,5.93],[3481,5.2],[3486,5.57],[3491,5.12],[3496,5.84],
[3501,5.23],[3506,5.68],[3511,5.06],[3516,5.5],[3521,5.91],[3526,5.32],[3531,5.59],[3536,5.01],[3541,5.82],[3546,5.36],[3551,5.73],[3556,5.16],[3561,5.54],[3566,5.87],[3571,5.29],[3576,5.76],[3581,5.14],[3586,5.63],[3591,5.41],[3596,5.98],
[3601,5.24],[3606,5.68],[3611,5.07],[3616,5.62],[3621,5.33],[3626,5.86],[3631,5.41],[3636,5.66],[3641,5.1],[3646,5.44],[3651,5.92],[3656,5.27],[3661,5.58],[3666,5.19],[3671,5.81],[3676,5.39],[3681,6.0],[3686,5.13],[3691,5.49],[3696,5.77],
[3701,5.38],[3706,5.83],[3711,5.21],[3716,5.54],[3721,5.97],[3726,5.09],[3731,5.67],[3736,5.31],[3741,5.76],[3746,5.46],[3751,5.16],[3756,5.9],[3761,5.28],[3766,5.6],[3771,5.04],[3776,5.72],[3781,5.42],[3786,5.94],[3791,5.18],[3796,5.56],
[3801,5.71],[3806,5.08],[3811,5.96],[3816,5.43],[3821,5.26],[3826,5.79],[3831,5.61],[3836,5.03],[3841,5.74],[3846,5.38],[3851,5.93],[3856,5.2],[3861,5.57],[3866,5.12],[3871,5.84],[3876,5.47],[3881,5.52],[3886,5.17],[3891,5.88],[3896,5.34],
[3901,5.27],[3906,5.54],[3911,4.96],[3916,5.77],[3921,5.31],[3926,5.68],[3931,5.11],[3936,5.49],[3941,5.82],[3946,5.24],[3951,5.71],[3956,5.09]];
const outlierGenes = [[24,6.88],[12,6.55],[153,6.55],[165,6.67],[170,6.4],[148,4.52],[262,6.42],[240,4.48],[360,7.79],[385,6.42],[330,4.55],[440,6.6],[490,6.36],[415,4.5],[470,4.47],[540,4.44],[580,4.37],[660,4.3],[700,4.42],[716,3.97],[705,8.86],[732,8.08],[702,7.29],[780,3.14],[830,4.5],[880,4.45],[945,4.52],[1060,4.48],[1150,4.42],[1185,6.35],[1250,7.33],[1220,4.5],[1330,4.4],[1380,4.47],[1500,4.32],[1460,4.45],[1520,4.38],[1670,4.25],[1690,2.71],[1650,4.42],[1720,4.42],[1760,4.4],[1870,4.32],[1970,4.28],[1990,4.15],[2040,4.09],[2070,4.35],[2090,4.42],[2160,4.24],[2120,4.4],[2250,4.44],[2370,4.15],[2340,4.45],[2420,4.5],[2480,4.46],[2560,4.4],[2640,2.66],[2640,4.3],[2690,4.45],[2750,4.52],[2850,4.45],[2930,4.5],[3050,4.55],[3140,4.5],[3260,4.6],[3320,4.46],[3350,4.6],[3450,4.55],[3660,4.5],[3800,4.52],[3940,4.3],[3950,4.57]];
const hitGenesKb = [605, 770, 1130, 2820];
const hitFitness = [7.33, 6.71, 6.53, 6.57];
const fitnessThreshold = 6.3;
const yTickLabelsA = ['0','1','2','3','4','5','6','7','8','9'];
const xTickValuesA = [0, 1e6, 2e6, 3e6, 4e6];
const xTickBaseA = ['0','1×10','2×10','3×10','4×10'];
const xTickExpA = ['','6','6','6','6'];

// ---------------- Panel B data: competitive indices (log10) ----------------
const categoryLabels = ['feoB*','pntB*','ddc','feoB*','pntB*','ddc*'];
const categoryPositions = [0,1,2,3,4,5];
const spleenFeoB = [0.18,-0.40,-0.60,-0.60,-0.77,-0.88,-1.01,-1.06,-2.32];
const spleenFeoBJitter = [0,0,-0.15,0.15,0,0.15,-0.15,0,0];
const spleenPntB = [0.38,0.09,-0.20,-0.39,-0.39,-0.79,-0.90,-1.20,-2.04];
const spleenPntBJitter = [0,0,0.16,-0.17,0,0.16,-0.16,0,0];
const spleenDdc = [0.54,0.52,0.29,0.29,0.22,-0.45,-0.65,-0.67,-1.26];
const spleenDdcJitter = [-0.16,0.16,-0.16,0.16,0,0.16,-0.16,0,0];
const liverFeoB = [-0.53,-0.73,-0.73,-0.95,-1.11,-1.29,-2.16,-2.19,-2.43];
const liverFeoBJitter = [0,-0.15,0.15,0,0.16,-0.16,-0.16,0.16,0];
const liverPntB = [-1.11,-1.21,-1.41,-1.55,-1.61,-1.80,-2.02,-2.15,-2.21,-2.60];
const liverPntBJitter = [0.16,-0.33,-0.16,0.33,0.16,-0.16,0.16,-0.16,0,0];
const liverDdc = [-0.33,-0.70,-0.84,-1.15,-1.27,-1.33,-1.36,-1.43,-1.49];
const liverDdcJitter = [0,0.16,-0.18,0,-0.18,0.16,-0.08,0.08,0];
const groupMedians = [-0.77,-0.39,0.23,-1.11,-1.70,-1.26];
const organLabels = ['Spleen','Liver'];
const organSpans = [[-0.165,2.42],[2.68,5.25]];
const organBracketY = 0.745;
const yTickLabelsB = ['-3','-2','-1','0','1'];

// ---------------- common ----------------
const FONT = '"Liberation Sans", Arial, Helvetica, sans-serif';
Chart.defaults.font.family = FONT;
Chart.defaults.color = '#000';

const toXY = arr => arr.map(p => ({x: p[0] * 1000, y: p[1]}));
const allGenes = [].concat(genesSeg1, genesSeg2, genesSeg3, genesSeg4, genesSeg5, genesSeg6, genesSeg7, genesSeg8,
  genesCore1, genesCore2, genesCore3, genesCore4, outlierGenes);

function drawPanelLetter(ctx, letter, x, y, size, stretch) {
  ctx.save();
  ctx.translate(x, y);
  ctx.scale(stretch, 1);
  ctx.textAlign = 'left';
  ctx.textBaseline = 'alphabetic';
  ctx.font = 'bold ' + size + 'px ' + FONT;
  ctx.fillText(letter, 0, 0);
  ctx.restore();
}

const panelAText = {
  id: 'panelAText',
  afterDraw(chart) {
    const ctx = chart.ctx, xs = chart.scales.x, area = chart.chartArea;
    ctx.save();
    ctx.fillStyle = '#000';
    drawPanelLetter(ctx, 'A', -1, 48, 53, 1.22);
    ctx.textBaseline = 'alphabetic';
    ctx.textAlign = 'left';
    xTickValuesA.forEach((v, i) => {
      const px = xs.getPixelForValue(v);
      ctx.font = '41px ' + FONT;
      const wb = ctx.measureText(xTickBaseA[i]).width;
      ctx.font = '30px ' + FONT;
      const we = xTickExpA[i] ? ctx.measureText(xTickExpA[i]).width : 0;
      const start = px - (wb + we) / 2;
      ctx.font = '41px ' + FONT;
      ctx.fillText(xTickBaseA[i], start, 562);
      if (we) { ctx.font = '30px ' + FONT; ctx.fillText(xTickExpA[i], start + wb, 547); }
    });
    ctx.textAlign = 'center';
    ctx.font = '46px ' + FONT;
    ctx.fillText('Genome (bp)', (area.left + area.right) / 2, 608);
    ctx.translate(43, 267);
    ctx.rotate(-Math.PI / 2);
    ctx.fillText('Fitness Factor', 0, 0);
    ctx.restore();
  }
};

new Chart(document.getElementById('chartA'), {
  type: 'scatter',
  data: {
    datasets: [
      {
        label: 'hits',
        data: hitGenesKb.map((kb, i) => ({x: kb * 1000, y: hitFitness[i]})),
        pointStyle: 'circle', pointRadius: 5.5, pointBackgroundColor: '#3f5fb5', pointBorderWidth: 0, clip: false
      },
      {
        type: 'line', label: 'threshold',
        data: [{x: 0, y: fitnessThreshold}, {x: 4e6, y: fitnessThreshold}],
        borderColor: '#e8402d', borderWidth: 4.5, borderDash: [17, 6], pointRadius: 0, clip: false
      },
      {
        label: 'genes',
        data: toXY(allGenes),
        pointStyle: 'rect', pointRadius: 3.9, pointBackgroundColor: '#000', pointBorderWidth: 0, clip: false
      }
    ]
  },
  options: {
    responsive: false, animation: false, devicePixelRatio: 1,
    layout: {padding: {left: 0, top: 66, right: 58, bottom: 0}},
    plugins: {legend: {display: false}, tooltip: {enabled: false}},
    scales: {
      x: {
        type: 'linear', min: 0, max: 4e6,
        ticks: {display: false, stepSize: 1e6},
        grid: {drawOnChartArea: false, tickLength: 12, tickWidth: 5, tickColor: '#000'},
        border: {display: true, color: '#000', width: 5},
        afterFit: s => { s.height = 158; }
      },
      y: {
        min: 0, max: 9,
        ticks: {stepSize: 1, autoSkip: false, font: {size: 37, lineHeight: 1}, padding: 3, color: '#000',
          callback: (v, i) => yTickLabelsA[i]},
        grid: {drawOnChartArea: false, tickLength: 12, tickWidth: 5, tickColor: '#000'},
        border: {display: true, color: '#000', width: 5},
        afterFit: s => { s.width = 115; }
      }
    }
  },
  plugins: [panelAText]
});

// ---------------- Panel B ----------------
const panelBText = {
  id: 'panelBText',
  afterDraw(chart) {
    const ctx = chart.ctx, xs = chart.scales.x, ys = chart.scales.y;
    ctx.save();
    ctx.fillStyle = '#000';
    drawPanelLetter(ctx, 'B', -1, 55, 53, 1.08);
    ctx.textBaseline = 'alphabetic';
    ctx.textAlign = 'center';
    ctx.font = '40px ' + FONT;
    const by = ys.getPixelForValue(organBracketY);
    organLabels.forEach((t, i) => {
      const cx = xs.getPixelForValue((organSpans[i][0] + organSpans[i][1]) / 2);
      ctx.fillText(t, cx, by - 20);
    });
    // y title with subscript
    ctx.translate(128, (chart.chartArea.top + chart.chartArea.bottom) / 2 - 8);
    ctx.rotate(-Math.PI / 2);
    ctx.textAlign = 'left';
    const p1 = 'Competitive Indices (Log', sub = '10', p3 = ')';
    ctx.font = '42px ' + FONT;
    const w1 = ctx.measureText(p1).width, w3 = ctx.measureText(p3).width;
    ctx.font = '32px ' + FONT;
    const w2 = ctx.measureText(sub).width;
    let x0 = -(w1 + w2 + w3) / 2;
    ctx.font = '42px ' + FONT;
    ctx.fillText(p1, x0, 0);
    ctx.font = '32px ' + FONT;
    ctx.fillText(sub, x0 + w1, 10);
    ctx.font = '42px ' + FONT;
    ctx.fillText(p3, x0 + w1 + w2, 0);
    ctx.restore();
  }
};

const groups = [
  {vals: spleenFeoB, jit: spleenFeoBJitter, style: 'circle', r: 11, fill: '#000'},
  {vals: spleenPntB, jit: spleenPntBJitter, style: 'rect', r: 15.5, fill: '#000'},
  {vals: spleenDdc, jit: spleenDdcJitter, style: 'triangle', r: 13, fill: '#000'},
  {vals: liverFeoB, jit: liverFeoBJitter, style: 'circle', r: 11, fill: 'rgba(0,0,0,0)'},
  {vals: liverPntB, jit: liverPntBJitter, style: 'rect', r: 15, fill: 'rgba(0,0,0,0)'},
  {vals: liverDdc, jit: liverDdcJitter, style: 'triangle', r: 12.5, fill: 'rgba(0,0,0,0)'}
];

const dsB = [];
groupMedians.forEach((m, i) => {
  dsB.push({type: 'line', data: [{x: categoryPositions[i] - 0.32, y: m}, {x: categoryPositions[i] + 0.32, y: m}],
    borderColor: '#000', borderWidth: 5, pointRadius: 0, clip: false});
});
groups.forEach((g, i) => {
  const open = g.fill !== '#000';
  dsB.push({type: 'scatter', data: g.vals.map((v, j) => ({x: categoryPositions[i] + g.jit[j], y: v})),
    pointStyle: g.style, pointRadius: g.r, pointBackgroundColor: g.fill, pointBorderColor: '#000',
    pointBorderWidth: open ? 3.2 : 1, clip: false});
});
dsB.push({type: 'line', data: [{x: -0.5, y: 0}, {x: 5.4, y: 0}], borderColor: '#000', borderWidth: 3.5,
  borderDash: [15, 6], pointRadius: 0, clip: false});
organSpans.forEach(sp => {
  dsB.push({type: 'line', data: [{x: sp[0], y: organBracketY}, {x: sp[1], y: organBracketY}],
    borderColor: '#000', borderWidth: 3.5, pointStyle: 'line', pointRotation: 90, pointRadius: 9,
    pointBorderColor: '#000', pointBorderWidth: 3.5, clip: false});
});

new Chart(document.getElementById('chartB'), {
  type: 'scatter',
  data: {datasets: dsB},
  options: {
    responsive: false, animation: false, devicePixelRatio: 1,
    layout: {padding: {left: 0, top: 37, right: 81, bottom: 0}},
    plugins: {legend: {display: false}, tooltip: {enabled: false}},
    scales: {
      x: {
        type: 'linear', min: -0.5, max: 5.4,
        afterBuildTicks: s => { s.ticks = categoryPositions.map(v => ({value: v})); },
        ticks: {autoSkip: false, minRotation: 48, maxRotation: 48, padding: 2,
          font: {size: 42, style: 'italic'}, color: '#000', callback: (v, i) => categoryLabels[i]},
        grid: {drawOnChartArea: false, tickLength: 11, tickWidth: 3.5, tickColor: '#000'},
        border: {display: true, color: '#000', width: 3.5},
        afterFit: s => { s.height = 130; }
      },
      y: {
        min: -3, max: 1,
        ticks: {stepSize: 1, autoSkip: false, font: {size: 30}, padding: 4, color: '#000',
          callback: (v, i) => yTickLabelsB[i]},
        grid: {drawOnChartArea: false, tickLength: 11, tickWidth: 3.5, tickColor: '#000'},
        border: {display: true, color: '#000', width: 3.5},
        afterFit: s => { s.width = 183; }
      }
    }
  },
  plugins: [panelBText]
});
</script>
</body>
</html>
